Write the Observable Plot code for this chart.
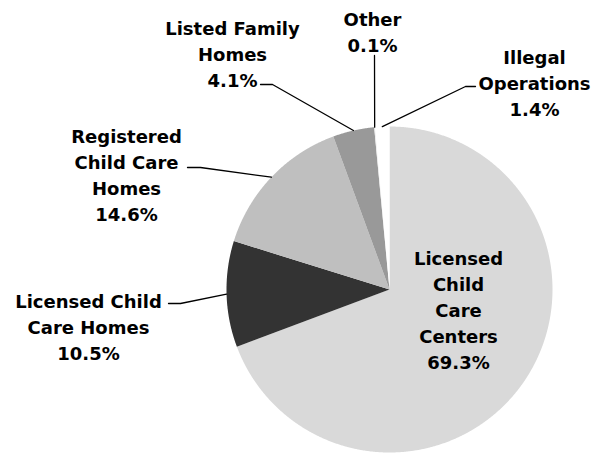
<!DOCTYPE html>
<html>
<head>
<meta charset="utf-8">
<script src="https://cdn.jsdelivr.net/npm/d3@7"></script>
<script src="https://cdn.jsdelivr.net/npm/@observablehq/plot@0.6"></script>
<style>
  html, body { margin: 0; padding: 0; background: #fff; }
</style>
</head>
<body>
<div id="chart"></div>
<script>
// ---- Data ----
const categories = [
  "Licensed Child Care Centers",
  "Licensed Child Care Homes",
  "Registered Child Care Homes",
  "Listed Family Homes",
  "Other",
  "Illegal Operations"
];
const shares = [69.3, 10.5, 14.6, 4.1, 0.1, 1.4];
const labelLines = [
  "Licensed\nChild\nCare\nCenters",
  "Licensed Child\nCare Homes",
  "Registered\nChild Care\nHomes",
  "Listed Family\nHomes",
  "Other",
  "Illegal\nOperations"
];

// ---- Styles ----
const colors = ["#d9d9d9", "#333333", "#bfbfbf", "#999999", "#eeeeee", "#ffffff"];

// ---- Layout (pixels) ----
const W = 595, H = 453;
const cx = 389, cy = 289, R = 163;
const labelLayout = [
  {x: 458, y: 308, elbow: null},
  {x: 88,  y: 325, elbow: [[168, 303], [180, 303]]},
  {x: 126, y: 173, elbow: [[187, 167], [200, 167]]},
  {x: 232, y: 52,  elbow: [[260, 84], [272, 84]]},
  {x: 372, y: 30,  elbow: [[374, 55]]},
  {x: 534, y: 81,  elbow: [[475, 86], [465, 86]]}
];

const data = categories.map((c, i) => ({name: c, value: shares[i], i}));
const arcs = d3.pie().sort(null).value(d => d.value).startAngle(0).endAngle(2 * Math.PI)(data);

const px = a => cx + R * Math.sin(a);
const py = a => cy - R * Math.cos(a);

// slice polygons
const slicePts = [];
arcs.forEach(a => {
  const name = a.data.name;
  const n = Math.max(2, Math.ceil((a.endAngle - a.startAngle) / (Math.PI / 720)));
  slicePts.push({name, x: cx, y: cy});
  for (let k = 0; k <= n; k++) {
    const t = a.startAngle + (a.endAngle - a.startAngle) * k / n;
    slicePts.push({name, x: px(t), y: py(t)});
  }
});

// leader lines
const leaderPts = [];
arcs.forEach((a, i) => {
  const L = labelLayout[i];
  if (!L.elbow) return;
  const mid = (a.startAngle + a.endAngle) / 2;
  L.elbow.forEach(p => leaderPts.push({name: a.data.name, x: p[0], y: p[1]}));
  leaderPts.push({name: a.data.name, x: px(mid), y: py(mid)});
});

const labels = data.map((d, i) => ({
  text: labelLines[i] + "\n" + d.value.toFixed(1) + "%",
  x: labelLayout[i].x,
  y: labelLayout[i].y
}));

const chart = Plot.plot({
  width: W,
  height: H,
  margin: 0,
  x: {domain: [0, W], range: [0, W], axis: null},
  y: {domain: [0, H], range: [0, H], axis: null},
  color: {domain: categories, range: colors},
  style: {background: "#fff"},
  marks: [
    Plot.line(slicePts, {x: "x", y: "y", z: "name", fill: "name", stroke: "none", curve: "linear-closed"}),
    Plot.line(leaderPts, {x: "x", y: "y", z: "name", stroke: "#000", strokeWidth: 1.3}),
    Plot.text(labels, {
      x: "x", y: "y", text: "text",
      fontSize: 18, fontWeight: "bold", fontFamily: "DejaVu Sans",
      lineHeight: 26 / 18, fill: "#000", textAnchor: "middle"
    })
  ]
});
document.getElementById("chart").appendChild(chart);
</script>
</body>
</html>
